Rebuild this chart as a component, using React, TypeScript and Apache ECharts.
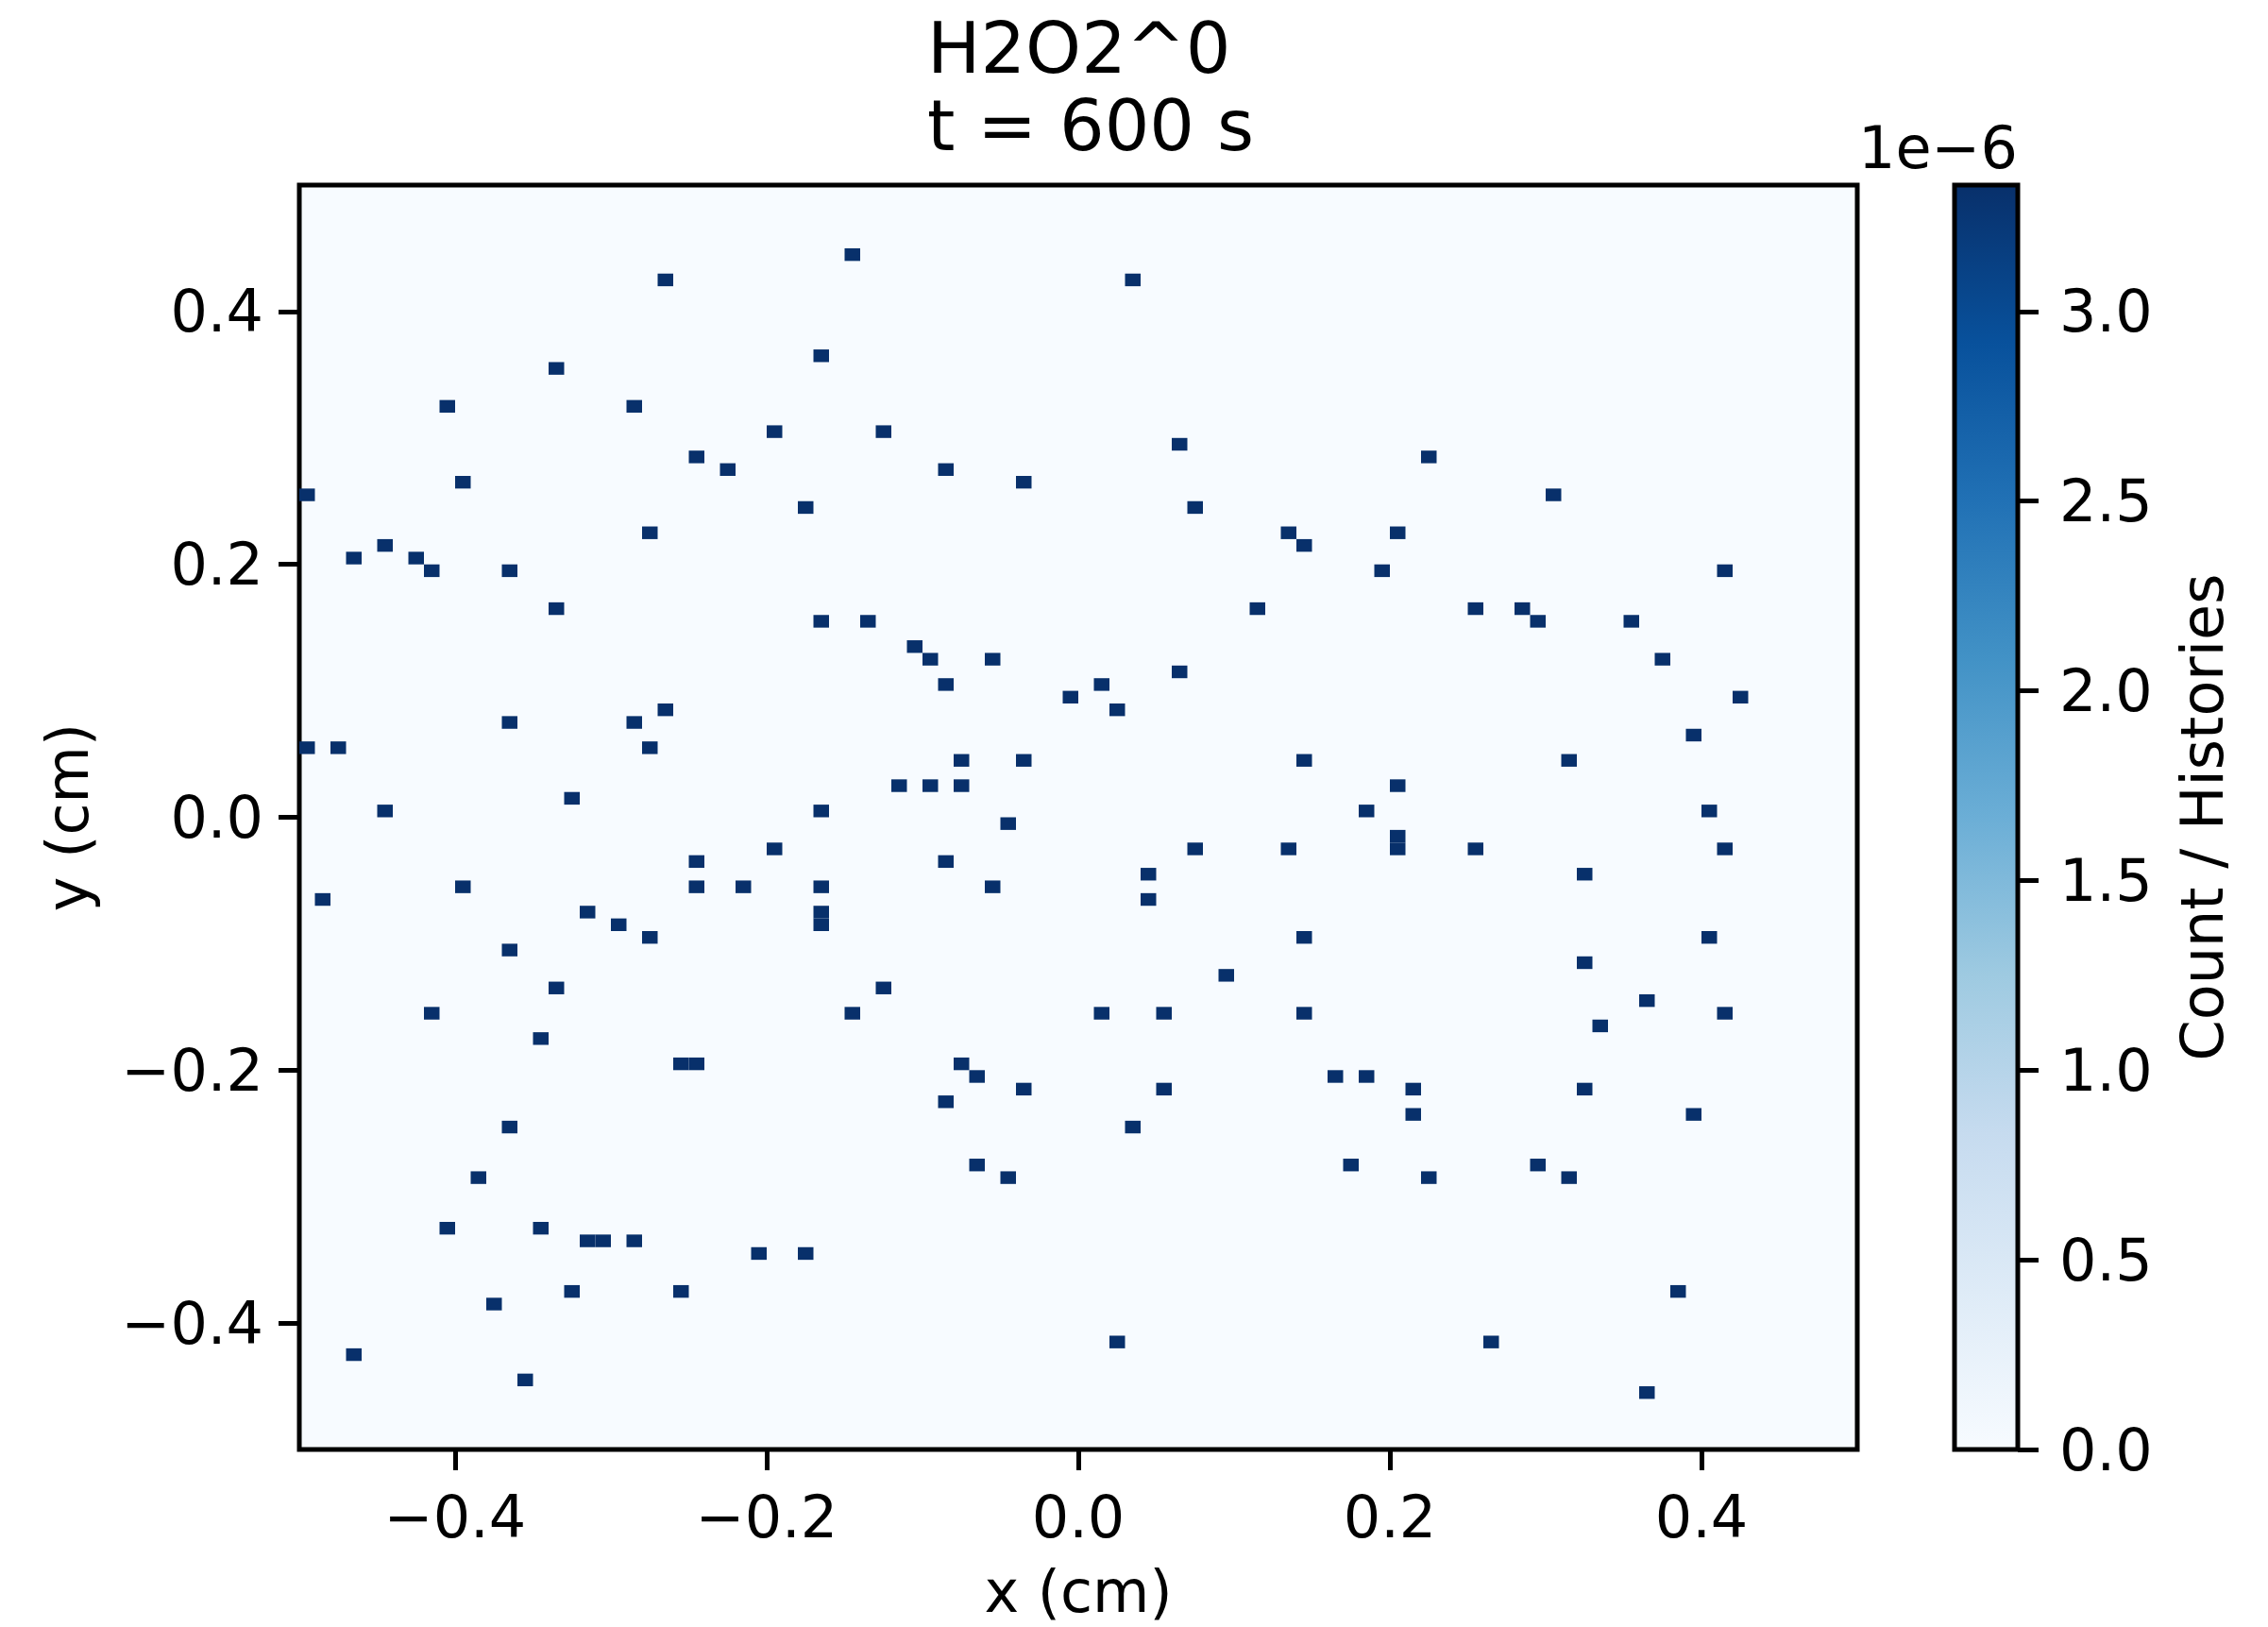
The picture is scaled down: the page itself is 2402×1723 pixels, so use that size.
import React, { useEffect, useRef } from "react";
import * as echarts from "echarts";

// ---------- texts ----------
const titleLines = ["H2O2^0", "t = 600 s"];
const xName = "x (cm)";
const yName = "y (cm)";
const cbName = "Count / Histories";
const cbOffsetText = "1e\u22126";

// ---------- axes ----------
const xRange = [-0.5, 0.5];
const yRange = [-0.5, 0.5];
const binSize = 0.01;
const xTicks = [-0.4, -0.2, 0, 0.2, 0.4];
const yTicks = [-0.4, -0.2, 0, 0.2, 0.4];
const cbTicks = [0, 0.5, 1, 1.5, 2, 2.5, 3];
const cbMax = 3.333; // ×1e-6
const cellValue = 3.333; // ×1e-6, every occupied bin (one count)

// ---------- occupied bins (bin centres, cm) ----------
const cellX = [
  -0.265, -0.165, -0.335, -0.405, -0.285, -0.195, -0.245, -0.225, -0.395, -0.495,
  -0.175, -0.275, -0.445, -0.465, -0.425, -0.415, -0.365, -0.335, -0.145, 0.035,
  -0.125, 0.065, -0.085, -0.035, 0.075, 0.135, 0.145, 0.115, 0.225, 0.305,
  0.205, 0.195, 0.415, 0.255, 0.285, -0.165, -0.265, -0.365, -0.285, -0.495,
  -0.475, -0.275, -0.325, -0.445, -0.165, -0.195, -0.245, -0.395, -0.245, -0.215,
  -0.165, -0.485, -0.315, -0.165, -0.165, -0.295, -0.275, -0.365, -0.335, -0.415,
  -0.345, -0.135, -0.105, -0.095, -0.055, 0.065, -0.085, 0.015, -0.005, 0.025,
  -0.075, -0.035, 0.145, -0.115, -0.095, -0.075, -0.045, 0.075, 0.135, -0.085,
  0.045, -0.055, 0.045, 0.145, 0.095, -0.125, -0.145, 0.015, 0.055, 0.145,
  0.295, 0.355, 0.375, 0.425, 0.395, 0.315, 0.205, 0.185, 0.405, 0.205,
  0.205, 0.255, 0.415, 0.325, 0.405, 0.325, 0.365, 0.415, 0.335, -0.255,
  -0.245, -0.365, -0.385, -0.405, -0.345, -0.315, -0.305, -0.285, -0.205, -0.175,
  -0.325, -0.255, -0.375, -0.465, -0.355, -0.075, -0.065, -0.035, 0.055, 0.165,
  -0.085, 0.035, -0.065, -0.045, 0.025, 0.185, 0.215, 0.325, 0.215, 0.395,
  0.175, 0.225, 0.295, 0.315, 0.385, 0.265, 0.365,
];
const cellY = [
  0.425, 0.365, 0.355, 0.325, 0.325, 0.305, 0.285, 0.275, 0.265, 0.255,
  0.245, 0.225, 0.215, 0.205, 0.205, 0.195, 0.195, 0.165, 0.445, 0.425,
  0.305, 0.295, 0.275, 0.265, 0.245, 0.225, 0.215, 0.165, 0.285, 0.255,
  0.225, 0.195, 0.195, 0.165, 0.165, 0.155, 0.085, 0.075, 0.075, 0.055,
  0.055, 0.055, 0.015, 0.005, 0.005, -0.025, -0.035, -0.055, -0.055, -0.055,
  -0.055, -0.065, -0.075, -0.075, -0.085, -0.085, -0.095, -0.105, -0.135, -0.155,
  -0.175, 0.155, 0.135, 0.125, 0.125, 0.115, 0.105, 0.105, 0.095, 0.085,
  0.045, 0.045, 0.045, 0.025, 0.025, 0.025, -0.005, -0.025, -0.025, -0.035,
  -0.045, -0.055, -0.065, -0.095, -0.125, -0.135, -0.155, -0.155, -0.155, -0.155,
  0.155, 0.155, 0.125, 0.095, 0.065, 0.045, 0.025, 0.005, 0.005, -0.015,
  -0.025, -0.025, -0.025, -0.045, -0.095, -0.115, -0.145, -0.155, -0.165, -0.195,
  -0.195, -0.245, -0.285, -0.325, -0.325, -0.335, -0.335, -0.335, -0.345, -0.345,
  -0.375, -0.375, -0.385, -0.425, -0.445, -0.195, -0.205, -0.215, -0.215, -0.205,
  -0.225, -0.245, -0.275, -0.285, -0.415, -0.205, -0.215, -0.215, -0.235, -0.235,
  -0.275, -0.285, -0.275, -0.285, -0.375, -0.415, -0.455,
];

// matplotlib "Blues"
const blues = [
  "#f7fbff", "#deebf7", "#c6dbef", "#9ecae1", "#6baed6",
  "#4292c6", "#2171b5", "#08519c", "#08306b",
];

const FONT = "DejaVu Sans";
const fmt = (v: number) =>
  (Math.abs(v) < 1e-9 ? "0.0" : v.toFixed(1)).replace("-", "\u2212");

export default function App() {
  const ref = useRef<HTMLDivElement>(null);

  useEffect(() => {
    if (!ref.current) return;
    const chart = echarts.init(ref.current, undefined, { renderer: "svg" });

    const cells = cellX.map((x, i) => [x, cellY[i], cellValue]);

    const tickStyle = { show: true, length: 22, lineStyle: { color: "#000", width: 5 } };
    const labelStyle = { color: "#000", fontSize: 62, fontFamily: FONT, lineHeight: 62 };
    const nameStyle = { color: "#000", fontSize: 62, fontFamily: FONT, lineHeight: 62 };
    const noLine = { show: false, onZero: false };

    const option: any = {
      animation: false,
      backgroundColor: "#ffffff",
      grid: [
        {
          left: 317, top: 196, width: 1650, height: 1339,
          show: true, backgroundColor: blues[0], borderColor: "#000", borderWidth: 5,
        },
        { left: 2070, top: 196, width: 67, height: 1339, show: false },
      ],
      xAxis: [
        {
          type: "value", gridIndex: 0, min: xRange[0], max: xRange[1], position: "bottom",
          axisLine: noLine,
          axisTick: { ...tickStyle, customValues: xTicks },
          axisLabel: { ...labelStyle, margin: 40, customValues: xTicks, formatter: fmt },
          splitLine: { show: false },
          name: xName, nameLocation: "middle", nameGap: 119, nameTextStyle: nameStyle,
        },
        {
          type: "value", gridIndex: 1, min: 0, max: 1, show: false,
          axisLine: noLine,
        },
      ],
      yAxis: [
        {
          type: "value", gridIndex: 0, min: yRange[0], max: yRange[1], position: "left",
          axisLine: noLine,
          axisTick: { ...tickStyle, customValues: yTicks },
          axisLabel: { ...labelStyle, margin: 38, customValues: yTicks, formatter: fmt },
          splitLine: { show: false },
          name: yName, nameLocation: "middle", nameGap: 215, nameRotate: 90,
          nameTextStyle: nameStyle,
        },
        {
          type: "value", gridIndex: 1, position: "right", min: 0, max: cbMax,
          axisLine: noLine,
          axisTick: { ...tickStyle, customValues: cbTicks },
          axisLabel: { ...labelStyle, margin: 44, customValues: cbTicks, formatter: fmt },
          splitLine: { show: false },
          name: cbName, nameLocation: "middle", nameGap: 164, nameRotate: 90,
          nameTextStyle: nameStyle,
        },
      ],
      visualMap: {
        type: "continuous", show: false, seriesIndex: 0, dimension: 2,
        min: 0, max: cbMax, inRange: { color: blues },
      },
      graphic: [
        {
          type: "text", x: 982, y: 51,
          style: {
            text: titleLines[0], fill: "#000", fontSize: 75, fontFamily: FONT,
            textAlign: "left", textVerticalAlign: "middle",
            align: "left", verticalAlign: "middle",
          },
        },
        {
          type: "text", x: 982, y: 133,
          style: {
            text: titleLines[1], fill: "#000", fontSize: 75, fontFamily: FONT,
            textAlign: "left", textVerticalAlign: "middle",
            align: "left", verticalAlign: "middle",
          },
        },
        {
          type: "text", x: 2137, y: 156,
          style: {
            text: cbOffsetText, fill: "#000", fontSize: 62, fontFamily: FONT,
            textAlign: "right", textVerticalAlign: "middle",
            align: "right", verticalAlign: "middle",
          },
        },
      ],
      series: [
        {
          type: "custom",
          xAxisIndex: 0, yAxisIndex: 0,
          encode: { x: 0, y: 1 },
          data: cells,
          renderItem: (params: any, api: any) => {
            const x = api.value(0) as number;
            const y = api.value(1) as number;
            const a = api.coord([x - binSize / 2, y + binSize / 2]);
            const b = api.coord([x + binSize / 2, y - binSize / 2]);
            return {
              type: "rect",
              shape: { x: a[0], y: a[1], width: b[0] - a[0], height: b[1] - a[1] },
              style: { fill: api.visual("color") },
            };
          },
        },
        {
          type: "custom",
          xAxisIndex: 1, yAxisIndex: 1,
          data: [[0, 0]],
          renderItem: (params: any, api: any) => {
            const a = api.coord([0, cbMax]);
            const b = api.coord([1, 0]);
            const shape = { x: a[0], y: a[1], width: b[0] - a[0], height: b[1] - a[1] };
            return {
              type: "group",
              children: [
                {
                  type: "rect", shape,
                  style: {
                    fill: new echarts.graphic.LinearGradient(
                      0, 1, 0, 0,
                      blues.map((c, i) => ({ offset: i / (blues.length - 1), color: c }))
                    ),
                  },
                },
                {
                  type: "rect", shape,
                  style: { fill: "none", stroke: "#000", lineWidth: 5 },
                },
              ],
            };
          },
        },
      ],
    };

    chart.setOption(option);
    return () => chart.dispose();
  }, []);

  return (
    <div
      ref={ref}
      style={{ position: "fixed", left: 0, top: 0, width: 2402, height: 1723, background: "#fff" }}
    />
  );
}
